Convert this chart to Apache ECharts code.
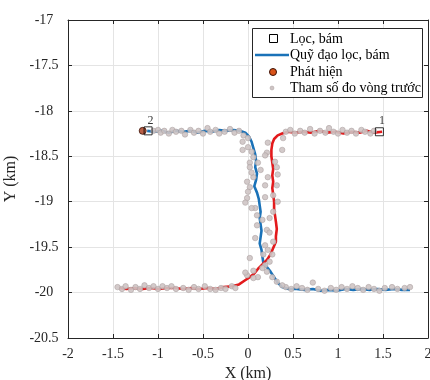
<!DOCTYPE html>
<html><head><meta charset="utf-8">
<script src="https://cdn.jsdelivr.net/npm/echarts@6/dist/echarts.min.js"></script>
<style>html,body{margin:0;padding:0;background:#fff}#c{width:430px;height:380px}</style>
</head><body><div id="c"></div>
<script>
// Axis ticks
const xTicks = [-2, -1.5, -1, -0.5, 0, 0.5, 1, 1.5, 2];
const yTicks = [-20.5, -20, -19.5, -19, -18.5, -18, -17.5, -17];

// Filtered tracks (km)
const track1 = [[1.49,-18.23],[1.40,-18.24],[1.32,-18.22],[1.24,-18.24],[1.15,-18.23],[1.06,-18.25],[0.97,-18.23],[0.88,-18.24],[0.79,-18.22],[0.70,-18.24],[0.61,-18.23],[0.52,-18.24],[0.44,-18.23],[0.38,-18.25],[0.33,-18.27],[0.29,-18.31],[0.27,-18.36],[0.26,-18.43],[0.26,-18.50],[0.27,-18.57],[0.28,-18.64],[0.27,-18.71],[0.28,-18.78],[0.27,-18.85],[0.28,-18.92],[0.29,-19.00],[0.29,-19.08],[0.30,-19.15],[0.31,-19.22],[0.32,-19.30],[0.31,-19.38],[0.31,-19.44],[0.28,-19.51],[0.25,-19.58],[0.21,-19.64],[0.16,-19.69],[0.11,-19.74],[0.07,-19.79],[0.02,-19.83],[-0.04,-19.87],[-0.10,-19.91],[-0.18,-19.93],[-0.27,-19.94],[-0.36,-19.96],[-0.45,-19.95],[-0.54,-19.96],[-0.63,-19.95],[-0.72,-19.96],[-0.81,-19.95],[-0.90,-19.95],[-0.99,-19.96],[-1.08,-19.95],[-1.17,-19.96],[-1.26,-19.95],[-1.35,-19.96],[-1.43,-19.95]];
const track2 = [[-1.12,-18.22],[-1.04,-18.23],[-0.96,-18.22],[-0.88,-18.24],[-0.80,-18.22],[-0.72,-18.23],[-0.64,-18.22],[-0.56,-18.24],[-0.48,-18.22],[-0.40,-18.23],[-0.32,-18.21],[-0.24,-18.22],[-0.16,-18.21],[-0.09,-18.22],[-0.03,-18.24],[0.01,-18.28],[0.04,-18.34],[0.06,-18.41],[0.08,-18.48],[0.09,-18.55],[0.08,-18.62],[0.10,-18.69],[0.09,-18.76],[0.07,-18.83],[0.10,-18.90],[0.12,-18.97],[0.13,-19.04],[0.14,-19.11],[0.13,-19.18],[0.14,-19.25],[0.15,-19.32],[0.14,-19.39],[0.13,-19.46],[0.15,-19.53],[0.16,-19.60],[0.17,-19.67],[0.21,-19.72],[0.25,-19.77],[0.29,-19.83],[0.33,-19.89],[0.38,-19.94],[0.45,-19.96],[0.54,-19.96],[0.63,-19.97],[0.72,-19.96],[0.81,-19.98],[0.90,-19.97],[0.99,-19.98],[1.08,-19.96],[1.17,-19.97],[1.26,-19.96],[1.35,-19.97],[1.44,-19.96],[1.53,-19.97],[1.62,-19.96],[1.71,-19.97],[1.80,-19.97]];

// Track start (Lọc, bám) with track numbers
const trackStarts = [[1.46,-18.23,'1'],[-1.11,-18.22,'2']];
// Detection (Phát hiện)
const detections = [[-1.17,-18.22]];

// Previous-scan measurements (Tham số đo vòng trước)
const measurements = [
 [-1.05,-18.22],[-1.0,-18.21],[-0.97,-18.24],[-0.93,-18.22],[-0.88,-18.25],[-0.84,-18.21],[-0.8,-18.23],[-0.74,-18.22],[-0.7,-18.26],[-0.64,-18.21],[-0.6,-18.24],[-0.55,-18.22],[-0.5,-18.25],[-0.45,-18.19],[-0.42,-18.23],[-0.36,-18.21],[-0.32,-18.25],[-0.26,-18.23],[-0.2,-18.2],[-0.15,-18.24],[-0.1,-18.22],[-0.05,-18.27],
 [0.42,-18.23],[0.47,-18.21],[0.52,-18.25],[0.58,-18.22],[0.63,-18.24],[0.69,-18.2],[0.74,-18.25],[0.8,-18.22],[0.86,-18.24],[0.9,-18.19],[0.95,-18.23],[1.0,-18.25],[1.05,-18.21],[1.1,-18.24],[1.15,-18.22],[1.2,-18.25],[1.26,-18.21],[1.3,-18.23],[1.36,-18.25],[1.4,-18.22],
 [-1.45,-19.94],[-1.4,-19.96],[-1.36,-19.93],[-1.3,-19.97],[-1.25,-19.94],[-1.2,-19.96],[-1.15,-19.92],[-1.1,-19.95],[-1.05,-19.93],[-1.0,-19.96],[-0.95,-19.93],[-0.9,-19.95],[-0.85,-19.93],[-0.8,-19.96],[-0.72,-19.95],[-0.66,-19.97],[-0.6,-19.94],[-0.55,-19.96],[-0.48,-19.93],[-0.42,-19.96],[-0.36,-19.97],[-0.3,-19.95],[-0.25,-19.96],[-0.18,-19.93],
 [0.42,-19.94],[0.48,-19.96],[0.54,-19.93],[0.6,-19.95],[0.66,-19.97],[0.72,-19.89],[0.78,-19.96],[0.85,-19.98],[0.92,-19.95],[0.98,-19.97],[1.04,-19.94],[1.1,-19.96],[1.16,-19.93],[1.22,-19.95],[1.28,-19.97],[1.34,-19.94],[1.4,-19.96],[1.46,-19.98],[1.52,-19.95],[1.6,-19.94],[1.66,-19.96],[1.74,-19.95],[1.8,-19.94],
 [-0.06,-18.34],[0.0,-18.40],[-0.06,-18.43],[0.06,-18.51],[0.02,-18.57],[0.11,-18.57],[0.06,-18.73],[0.22,-18.35],[0.21,-18.46],[0.30,-18.56],[0.39,-18.30],[0.38,-18.43],[0.0,-18.30],[0.04,-18.45],[0.02,-18.62],[0.04,-18.68],[-0.01,-18.78],[0.02,-18.84],[0.0,-18.89],[-0.01,-18.96],[-0.03,-19.01],[0.08,-19.07],[0.19,-18.49],[0.32,-18.62],[0.22,-18.73],[0.32,-18.82],[0.19,-18.82],[0.28,-18.93],[0.19,-18.95],[0.33,-19.00],[0.28,-19.11],[0.04,-19.07],[0.10,-19.26],[0.08,-19.40],[0.21,-19.31],[0.24,-19.34],[0.19,-19.48],[0.22,-19.53],[0.27,-19.58],[0.24,-19.66],[0.19,-19.70],[0.16,-19.73],[0.21,-19.77],[0.11,-19.83],[0.06,-19.84],[-0.01,-19.81],[0.27,-19.83],[0.32,-19.88],[0.38,-19.92],[-0.14,-19.95],[0.10,-19.15],[0.24,-19.18],[0.28,-19.44],[0.17,-19.58],[0.02,-19.62],[-0.03,-19.78],[0.06,-19.76],[0.14,-18.65],[0.33,-18.70],[0.16,-19.20]
];

const legendNames = ['Lọc, bám', 'Quỹ đạo lọc, bám', 'Phát hiện', 'Tham số đo vòng trước'];

const FONT = 'Liberation Serif';
const INK = '#262626';
const BLUE = '#1a72b8', RED = '#e31a1c';
const GRAY_FILL = '#cec4c4', GRAY_EDGE = '#a99e9e';

const chart = echarts.init(document.getElementById('c'), null, {renderer: 'canvas'});

const baseX = {type: 'value', min: xTicks[0], max: xTicks[xTicks.length-1], interval: 0.5};
const baseY = {type: 'value', min: yTicks[0], max: yTicks[yTicks.length-1], interval: 0.5};

const legendRows = [39, 55, 72, 88];

chart.setOption({
  animation: false,
  backgroundColor: '#fff',
  grid: {left: 68, right: 2, top: 20, bottom: 42, containLabel: false, outerBoundsMode: 'none'},
  xAxis: [
    Object.assign({}, baseX, {
      position: 'bottom',
      axisLine: {show: true, onZero: false, lineStyle: {color: INK, width: 1}},
      axisTick: {show: true, inside: true, length: 4, lineStyle: {color: INK}},
      axisLabel: {fontFamily: FONT, fontSize: 14, color: INK, margin: 9},
      splitLine: {show: true, lineStyle: {color: '#e4e4e4', width: 1}},
      name: 'X (km)', nameLocation: 'middle', nameGap: 27,
      nameTextStyle: {fontFamily: FONT, fontSize: 16, color: INK}
    }),
    Object.assign({}, baseX, {
      position: 'top',
      axisLine: {show: true, onZero: false, lineStyle: {color: INK, width: 1}},
      axisTick: {show: true, inside: true, length: 4, lineStyle: {color: INK}},
      axisLabel: {show: false}, splitLine: {show: false}
    })
  ],
  yAxis: [
    Object.assign({}, baseY, {
      position: 'left',
      axisLine: {show: true, onZero: false, lineStyle: {color: INK, width: 1}},
      axisTick: {show: true, inside: true, length: 4, lineStyle: {color: INK}},
      axisLabel: {fontFamily: FONT, fontSize: 14, color: INK, margin: 24, align: 'center'},
      splitLine: {show: true, lineStyle: {color: '#e4e4e4', width: 1}},
      name: 'Y (km)', nameLocation: 'middle', nameGap: 42,
      nameTextStyle: {fontFamily: FONT, fontSize: 16, color: INK}
    }),
    Object.assign({}, baseY, {
      position: 'right',
      axisLine: {show: true, onZero: false, lineStyle: {color: INK, width: 1}},
      axisTick: {show: true, inside: true, length: 4, lineStyle: {color: INK}},
      axisLabel: {show: false}, splitLine: {show: false}
    })
  ],
  series: [
    {name: legendNames[1], type: 'line', data: track2, showSymbol: false, symbol: 'none',
     lineStyle: {color: BLUE, width: 2.6}, z: 2},
    {name: legendNames[1] + ' 1', type: 'line', data: track1, showSymbol: false, symbol: 'none',
     lineStyle: {color: RED, width: 2.6}, z: 2},
    {name: legendNames[3], type: 'scatter', data: measurements, symbol: 'circle', symbolSize: 5.5,
     itemStyle: {color: GRAY_FILL, borderColor: GRAY_EDGE, borderWidth: 0.6, opacity: 0.9}, z: 3},
    {name: legendNames[2], type: 'scatter', data: detections, symbol: 'circle', symbolSize: 7,
     itemStyle: {color: '#a8381a', borderColor: '#3a1005', borderWidth: 1}, z: 4},
    {name: legendNames[0], type: 'scatter', data: trackStarts, symbol: 'rect', symbolSize: 8,
     itemStyle: {color: 'rgba(255,255,255,0)', borderColor: '#000', borderWidth: 1}, z: 5,
     label: {show: true, formatter: p => p.value[2], position: [4, -12],
             fontFamily: FONT, fontSize: 12, color: '#000'}}
  ],
  graphic: [
    {type: 'rect', z: 100, shape: {x: 252.5, y: 28.5, width: 170, height: 69},
     style: {fill: '#fff', stroke: INK, lineWidth: 1}},
    {type: 'rect', z: 101, shape: {x: 269.5, y: legendRows[0]-4.5, width: 8, height: 8},
     style: {fill: '#fff', stroke: '#000', lineWidth: 1}},
    {type: 'line', z: 101, shape: {x1: 255, y1: legendRows[1], x2: 289, y2: legendRows[1]},
     style: {stroke: BLUE, lineWidth: 2.6}},
    {type: 'circle', z: 101, shape: {cx: 273, cy: legendRows[2], r: 3.5},
     style: {fill: '#d95319', stroke: '#3a1005', lineWidth: 1}},
    {type: 'circle', z: 101, shape: {cx: 272, cy: legendRows[3], r: 2},
     style: {fill: GRAY_FILL, stroke: GRAY_EDGE, lineWidth: 0.5}},
  ].concat(legendNames.map((t, i) => ({
    type: 'text', z: 101, style: {text: t, x: 290, y: legendRows[i], fill: '#000',
      font: '14px "' + FONT + '"', verticalAlign: 'middle', align: 'left'}
  })))
});
</script></body></html>
